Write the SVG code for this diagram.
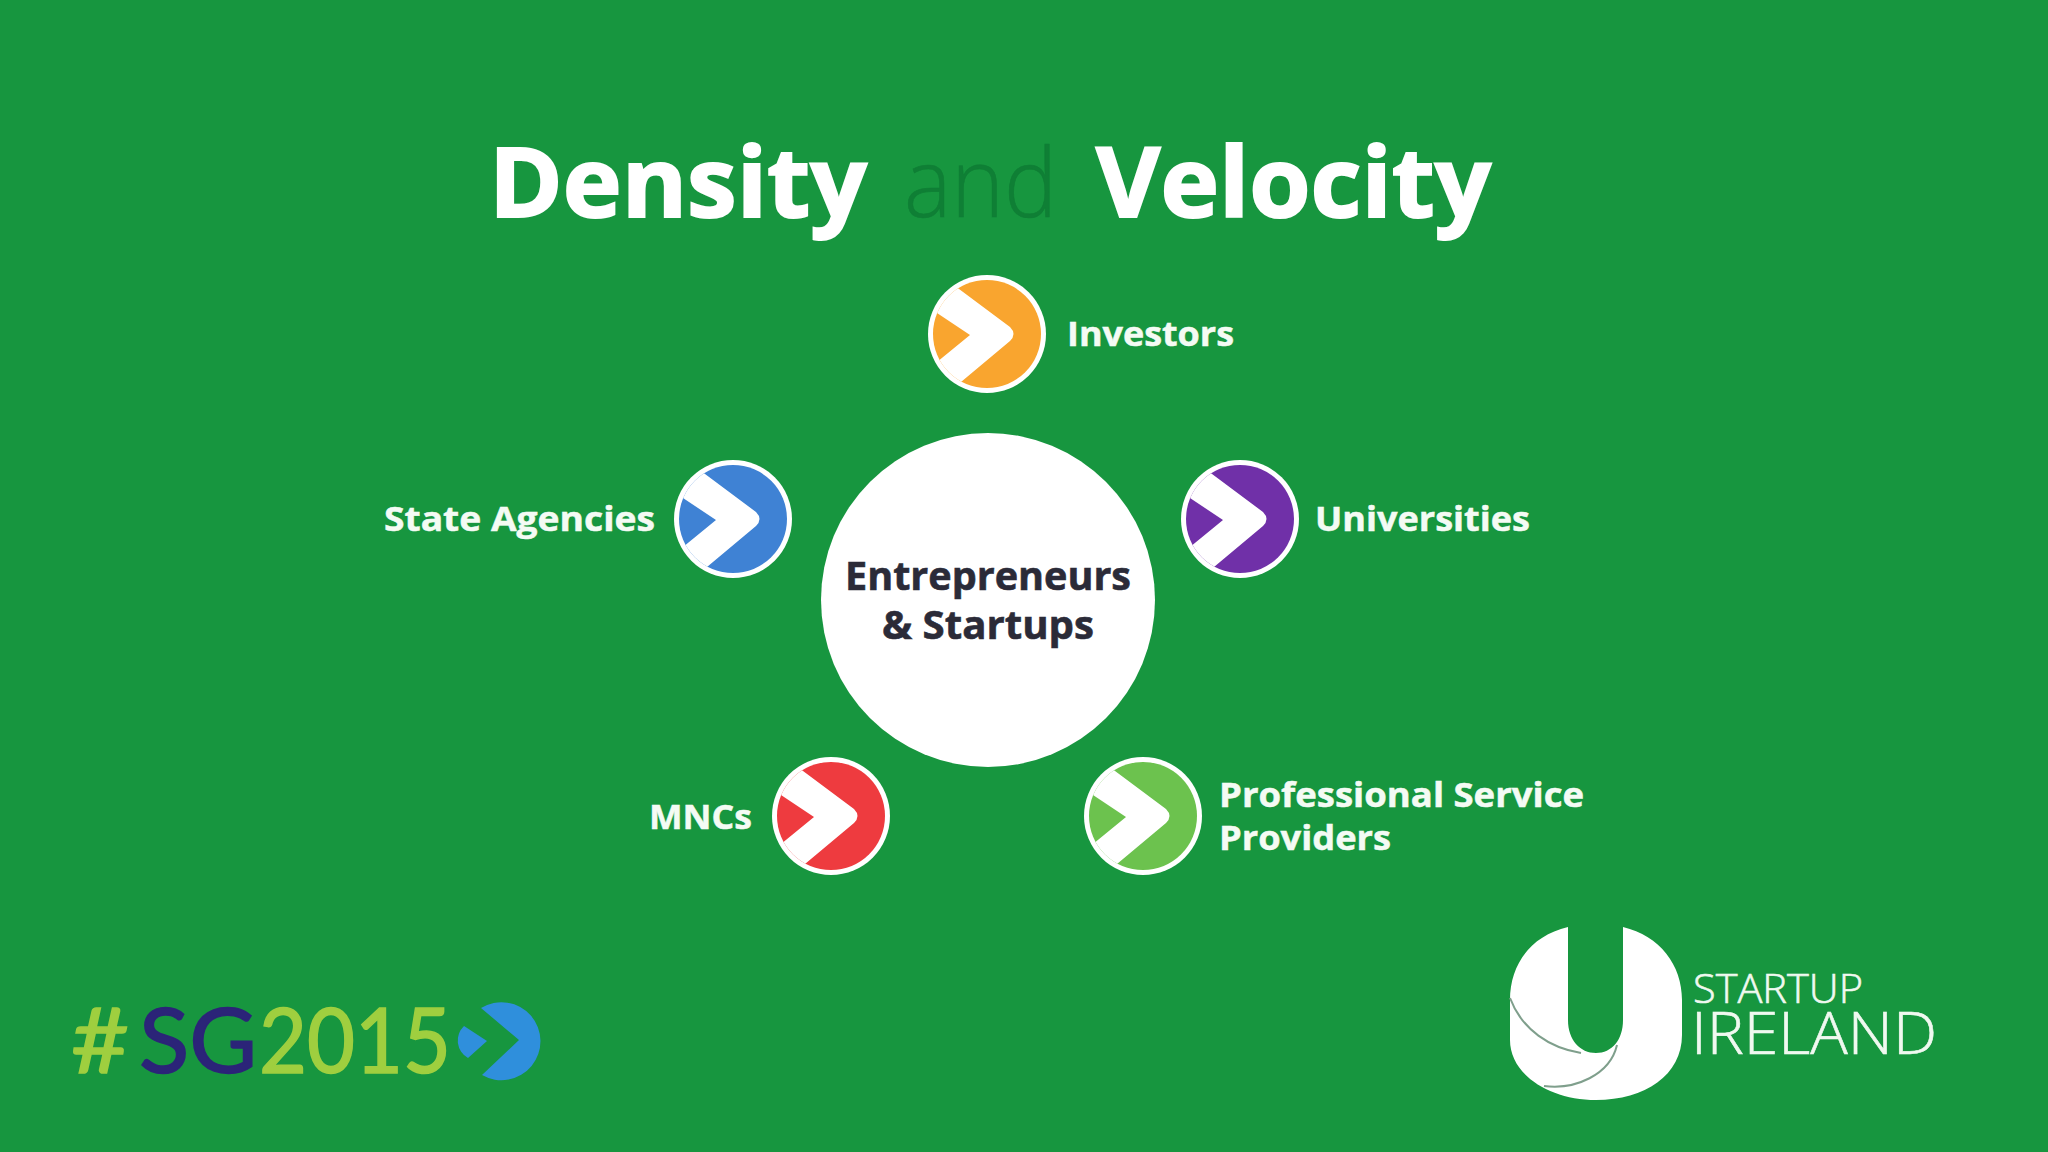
<svg xmlns="http://www.w3.org/2000/svg" width="2048" height="1152" viewBox="0 0 2048 1152">
<defs>
<clipPath id="ic"><circle r="54"/></clipPath>
<g id="chev">
<circle r="59" fill="#fff"/>
<circle r="54" fill="currentColor"/>
<path clip-path="url(#ic)" fill="#fff" d="M-32,-48 L23,-7 Q30,0 23,7 L-26,48 L-50,60 L-70,40 L-50,28 L-17,1 L-53,-23 L-70,-40 L-50,-60 Z"/>
</g>
</defs>
<style>
.lb{font-family:"Open Sans","Noto Sans",sans-serif;font-weight:700;font-size:34px;fill:#f4fbf4;stroke:#f4fbf4;stroke-width:.5px}
.tt{font-family:"Open Sans","Noto Sans",sans-serif;font-weight:700;font-size:96px;fill:#fff;stroke:#fff;stroke-width:2px}
.ctr{font-family:"Open Sans","Noto Sans",sans-serif;font-weight:700;font-size:40px;fill:#2b2b38;stroke:#2b2b38;stroke-width:.6px}
.sg{font-family:Lato,"Open Sans",sans-serif;font-size:92px;stroke-width:1.6px}
.si{font-family:"Open Sans","Noto Sans",sans-serif;font-weight:300;fill:#f0f9f0;stroke:#f0f9f0;stroke-width:.6px}
</style>
<rect width="2048" height="1152" fill="#17963f"/>
<g id="title">
<text class="tt" x="489" y="217" textLength="378" lengthAdjust="spacingAndGlyphs">Density</text>
<text x="904" y="217" font-family="'Open Sans','Noto Sans',sans-serif" font-weight="300" font-size="96" fill="#0f7f35" stroke="#0f7f35" stroke-width=".6" textLength="153" lengthAdjust="spacingAndGlyphs">and</text>
<text class="tt" x="1096" y="217" textLength="395" lengthAdjust="spacingAndGlyphs">Velocity</text>
</g>
<g id="connectors"></g>
<g id="node-center">
<circle cx="988" cy="600" r="167" fill="#fff"/>
<text class="ctr" x="845" y="590" textLength="286" lengthAdjust="spacingAndGlyphs">Entrepreneurs</text>
<text class="ctr" x="882" y="639" textLength="212" lengthAdjust="spacingAndGlyphs">&amp; Startups</text>
</g>
<g id="node-investors">
<use href="#chev" x="987" y="334" color="#f9a52f"/>
<text class="lb" x="1067" y="346" textLength="167" lengthAdjust="spacingAndGlyphs">Investors</text>
</g>
<g id="node-universities">
<use href="#chev" x="1240" y="519" color="#7030a8"/>
<text class="lb" x="1315" y="531" textLength="215" lengthAdjust="spacingAndGlyphs">Universities</text>
</g>
<g id="node-state">
<use href="#chev" x="733" y="519" color="#3f82d4"/>
<text class="lb" x="384" y="531" textLength="271" lengthAdjust="spacingAndGlyphs">State Agencies</text>
</g>
<g id="node-mncs">
<use href="#chev" x="831" y="816" color="#ee3b3f"/>
<text class="lb" x="649" y="829" textLength="103" lengthAdjust="spacingAndGlyphs">MNCs</text>
</g>
<g id="node-prof">
<use href="#chev" x="1143" y="816" color="#6cc24e"/>
<text class="lb" x="1219" y="807" textLength="365" lengthAdjust="spacingAndGlyphs">Professional Service</text>
<text class="lb" x="1219" y="850" textLength="172" lengthAdjust="spacingAndGlyphs">Providers</text>
</g>
<g id="logo-sg">
<text class="sg" x="71" y="1073" fill="#9fcf3f" stroke="#9fcf3f" textLength="58" lengthAdjust="spacingAndGlyphs">#</text>
<text class="sg" x="139" y="1073" fill="#2b2478" stroke="#2b2478" textLength="118" lengthAdjust="spacingAndGlyphs">SG</text>
<text class="sg" x="259" y="1073" fill="#9fcf3f" stroke="#9fcf3f" textLength="192" lengthAdjust="spacingAndGlyphs">2015</text>
<path fill="#2f8fdc" d="M481,1008 A39,39 0 1 1 482,1075 L519,1040 Z"/>
<path fill="#2f8fdc" d="M464,1026 L487,1041 L468,1058 A20,20 0 0 1 464,1026 Z"/>
</g>
<g id="logo-startup">
<path fill="#fff" d="M1568,927 C1530,936 1510,965 1510,1000 L1510,1040 C1510,1075 1550,1100 1596,1100 C1645,1100 1682,1075 1682,1035 L1682,1000 C1682,965 1660,936 1623,927 L1623,1020 C1623,1040 1612,1053 1596,1053 C1580,1053 1568,1040 1568,1020 Z"/>
<path fill="none" stroke="#7f9f8c" stroke-width="2" d="M1510,998 C1522,1030 1550,1048 1581,1053 M1544,1086 C1575,1090 1610,1075 1617,1045"/>
<text class="si" x="1693" y="1003" font-size="41" textLength="170" lengthAdjust="spacingAndGlyphs">STARTUP</text>
<text class="si" x="1691" y="1054" font-size="59" textLength="246" lengthAdjust="spacingAndGlyphs">IRELAND</text>
</g>
</svg>
